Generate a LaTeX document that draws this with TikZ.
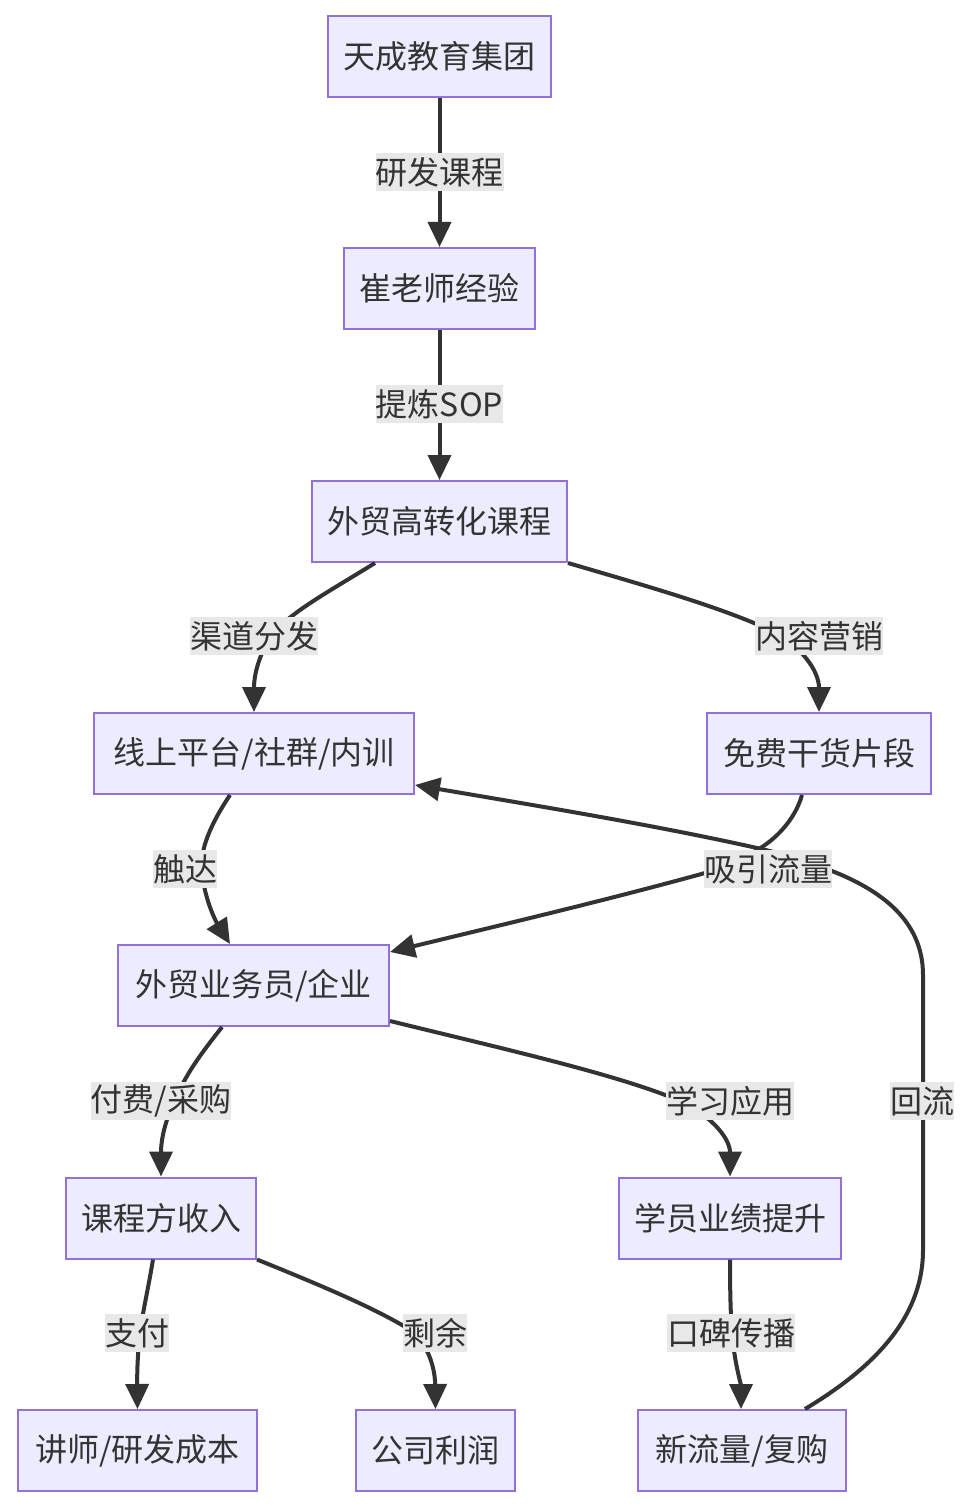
\documentclass[tikz,border=0pt]{standalone}
\usepackage{fontspec}
\setmainfont{Noto Sans CJK SC}
\usetikzlibrary{arrows.meta,calc}
\definecolor{nodefill}{HTML}{ECECFF}
\definecolor{nodeborder}{HTML}{9370DB}
\definecolor{ink}{HTML}{333333}
\definecolor{lblbg}{HTML}{E8E8E8}
\begin{document}
\begin{tikzpicture}[x=0.5pt,y=-0.5pt,
  box/.style={draw=nodeborder,fill=nodefill,line width=1pt,minimum height=40.5pt,inner sep=0pt,text=ink,font=\fontsize{16pt}{19pt}\selectfont},
  lbl/.style={fill=lblbg,inner sep=0pt,minimum height=19pt,text=ink,font=\fontsize{16pt}{19pt}\selectfont},
  conn/.style={draw=ink,line width=2pt,-{Triangle[length=12.5pt,width=11.5pt]}},
  connline/.style={draw=ink,line width=2pt}]

\fill[white] (0,0) rectangle (972,1508);
\useasboundingbox (0,0) rectangle (972,1508);

% nodes
\node[box,minimum width=111.5pt] (A) at (439.5,56.5) {天成教育集团};
\node[box,minimum width=95.5pt]  (B) at (439.5,288.5) {崔老师经验};
\node[box,minimum width=127.5pt] (C) at (439.5,521.5) {外贸高转化课程};
\node[box,minimum width=160pt]   (D) at (254,753.5) {线上平台/社群/内训};
\node[box,minimum width=112pt]   (E) at (819,753.5) {免费干货片段};
\node[box,minimum width=135.5pt] (F) at (253.5,985.5) {外贸业务员/企业};
\node[box,minimum width=95pt]    (G) at (161,1218) {课程方收入};
\node[box,minimum width=111pt]   (H) at (730,1218) {学员业绩提升};
\node[box,minimum width=119.5pt] (I) at (137.5,1450.5) {讲师/研发成本};
\node[box,minimum width=79.5pt]  (J) at (435.5,1450.5) {公司利润};
\node[box,minimum width=104pt]   (K) at (742,1450.5) {新流量/复购};

% label positions
\coordinate (lAB) at (439.5,172);
\coordinate (lBC) at (439.5,404);
\coordinate (lCD) at (254,636);
\coordinate (lCE) at (819,636);
\coordinate (lDF) at (185,869);
\coordinate (lEF) at (768,869);
\coordinate (lKD) at (922,1101);
\coordinate (lFG) at (161,1101);
\coordinate (lFH) at (730,1101);
\coordinate (lGI) at (137,1333);
\coordinate (lGJ) at (435,1333);
\coordinate (lHK) at (731,1333);

% connectors
\draw[conn] (A.south) -- (B.north);
\draw[conn] (B.south) -- (C.north);
\draw[conn] ($(C.south)+(-64.5,0)$) .. controls (325,594) and (285,615) .. (268,640)
   .. controls (258,660) and (254,675) .. (D.north);
\draw[conn] (C.south east) .. controls (650,587) and (720,607) .. (770,630)
   .. controls (800,645) and (819,670) .. (E.north);
\draw[conn] ($(D.south)+(-24,0)$) .. controls (210,825) and (200,850) .. (202,869)
   .. controls (203,895) and (215,920) .. ($(F.north)+(-23.5,0)$);
\draw[conn] ($(E.south)+(-17,0)$) .. controls (795,820) and (775,840) .. (757,850)
   .. controls (740,862) and (720,868) .. (705,873)
   .. controls (600,902) and (480,930) .. ($(F.north east)+(0,8)$);
\draw[conn] ($(K.north)+(63,0)$) .. controls (870,1370) and (923,1320) .. (923,1250)
   -- (923,975) .. controls (923,920) and (880,890) .. (832,871)
   .. controls (810,862) and (780,853) .. (757,848)
   .. controls (650,824) and (520,803) .. ($(D.south east)+(0,-10)$);
\draw[conn] ($(F.south)+(-31.5,0)$) .. controls (200,1055) and (185,1075) .. (175,1101)
   .. controls (165,1120) and (161,1140) .. (G.north);
\draw[conn] ($(F.south east)+(0,-6)$) .. controls (500,1048) and (620,1075) .. (680,1101)
   .. controls (715,1118) and (730,1140) .. (H.north);
\draw[conn] ($(G.south)+(-8,0)$) .. controls (148,1290) and (143,1310) .. (140,1333)
   .. controls (138,1350) and (137,1370) .. (I.north);
\draw[conn] (G.south east) .. controls (320,1285) and (380,1310) .. (415,1333)
   .. controls (430,1350) and (435,1370) .. (J.north);
\draw[conn] (H.south) .. controls (730,1300) and (731,1320) .. (732,1333)
   .. controls (734,1360) and (741,1385) .. ($(K.north)+(-1,0)$);

% labels
\node[lbl] (tAB) at (lAB) {研发课程};
\node[lbl] (tBC) at (lBC) {提炼SOP};
\node[lbl] (tCD) at (lCD) {渠道分发};
\node[lbl] (tCE) at (lCE) {内容营销};
\node[lbl] (tDF) at (lDF) {触达};
\node[lbl] (tEF) at (lEF) {吸引流量};
\node[lbl] (tKD) at (lKD) {回流};
\node[lbl] (tFG) at (lFG) {付费/采购};
\node[lbl] (tFH) at (lFH) {学习应用};
\node[lbl] (tGI) at (lGI) {支付};
\node[lbl] (tGJ) at (lGJ) {剩余};
\node[lbl] (tHK) at (lHK) {口碑传播};
\end{tikzpicture}
\end{document}
